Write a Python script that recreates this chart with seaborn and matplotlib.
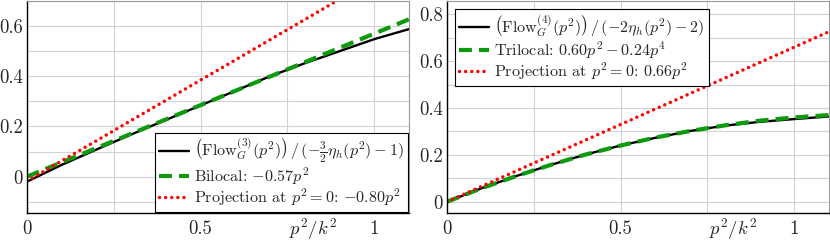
import matplotlib

matplotlib.use("Agg", force=True)
import pandas as pd  # noqa: E402
import seaborn as sns  # noqa: E402
from matplotlib import pyplot as plt  # noqa: E402
from matplotlib.ticker import FixedLocator, MultipleLocator  # noqa: E402

# p^2/k^2 sample points
P2 = [0.0, 0.1, 0.2, 0.3, 0.4, 0.5, 0.6, 0.7, 0.8, 0.9, 1.0, 1.1]

# left panel: three-point flow
FLOW3 = [-0.02, 0.047, 0.108, 0.168, 0.226, 0.284, 0.342, 0.40, 0.452, 0.50, 0.548, 0.588]
BILOCAL = [0.0, 0.057, 0.114, 0.171, 0.228, 0.285, 0.342, 0.399, 0.456, 0.513, 0.57, 0.627]
PROJ3 = [-0.018, 0.063, 0.143, 0.224, 0.304, 0.385, 0.465, 0.546, 0.626, 0.707, 0.787, 0.868]

# right panel: four-point flow
FLOW4 = [0.0, 0.058, 0.11, 0.158, 0.202, 0.24, 0.273, 0.302, 0.325, 0.341, 0.353, 0.364]
TRILOCAL = [0.0, 0.058, 0.11, 0.158, 0.202, 0.24, 0.274, 0.302, 0.326, 0.346, 0.36, 0.37]
PROJ4 = [0.0, 0.066, 0.132, 0.198, 0.264, 0.33, 0.396, 0.462, 0.528, 0.594, 0.66, 0.726]

LABELS_LEFT = [
    r"$\left(\mathrm{Flow}_G^{(3)}(p^2)\right)\,/\,(-\frac{3}{2}\eta_h(p^2)-1)$",
    r"Bilocal: $-0.57p^2$",
    r"Projection at $p^2=0$: $-0.80p^2$",
]
LABELS_RIGHT = [
    r"$\left(\mathrm{Flow}_G^{(4)}(p^2)\right)\,/\,(-2\eta_h(p^2)-2)$",
    r"Trilocal: $0.60p^2-0.24p^4$",
    r"Projection at $p^2=0$: $0.66p^2$",
]

GREEN = "#0e9a0e"
STYLES = [
    dict(color="black", lw=1.7, linestyle="-"),
    dict(color=GREEN, lw=3.0, linestyle=(0, (3.1, 1.7)), dash_capstyle="butt"),
    dict(color="#ff0000", lw=2.5, linestyle=(0, (0.01, 1.75)), dash_capstyle="round"),
]

sns.set_theme(style="white")
plt.rcParams["font.family"] = ["cmr10", "DejaVu Serif"]
plt.rcParams["mathtext.fontset"] = "cm"
plt.rcParams["axes.formatter.use_mathtext"] = True
plt.rcParams["axes.unicode_minus"] = True


def draw_panel(ax, series, labels, ylim, yticks, legend_kw):
    frame = pd.DataFrame({"p2": P2})
    for values, label, style in zip(series, labels, STYLES):
        frame["y"] = values
        sns.lineplot(data=frame, x="p2", y="y", ax=ax, label=label, **style)
    ax.set_xlim(0, 1.1)
    ax.set_ylim(*ylim)
    ax.xaxis.set_major_locator(FixedLocator([0, 0.5, 1]))
    ax.xaxis.set_minor_locator(FixedLocator([0.25, 0.75]))
    ax.set_xticklabels(["0", "0.5", "1"])
    ax.yaxis.set_major_locator(FixedLocator(yticks))
    ax.yaxis.set_minor_locator(MultipleLocator(0.1))
    ax.set_yticklabels(["0" if t == 0 else f"{t:.1f}" for t in yticks])
    ax.grid(which="both", color="#d2d2d2", lw=0.8)
    ax.set_axisbelow(True)
    ax.tick_params(which="both", length=0, labelsize=13.5)
    ax.tick_params(axis="x", pad=5)
    ax.tick_params(axis="y", pad=3)
    ax.set_xlabel("")
    ax.set_ylabel("")
    for side in ("left", "bottom"):
        ax.spines[side].set_color("black")
        ax.spines[side].set_linewidth(1.0)
    for side in ("top", "right"):
        ax.spines[side].set_color("#999999")
        ax.spines[side].set_linewidth(0.8)
    ax.text(0.825, -0.075, r"$p^2/k^2$", transform=ax.get_xaxis_transform(),
            ha="center", va="center", fontsize=13.5)
    leg = ax.legend(fontsize=11.6, frameon=True, fancybox=False, handlelength=1.9,
                    handletextpad=0.3, labelspacing=0.0, borderpad=0.25, **legend_kw)
    leg.get_frame().set_edgecolor("black")
    leg.get_frame().set_linewidth(0.8)
    leg.get_frame().set_alpha(1.0)


fig = plt.figure(figsize=(8.3, 2.41), dpi=100)
ax_left = fig.add_axes([27 / 830, 28 / 241, 382 / 830, 212 / 241])
ax_right = fig.add_axes([447 / 830, 28 / 241, 382 / 830, 212 / 241])

draw_panel(ax_left, [FLOW3, BILOCAL, PROJ3], LABELS_LEFT, (-0.145, 0.70),
           [0, 0.2, 0.4, 0.6],
           dict(loc="lower right", bbox_to_anchor=(0.998, 0.003), borderaxespad=0))
draw_panel(ax_right, [FLOW4, TRILOCAL, PROJ4], LABELS_RIGHT, (-0.048, 0.857),
           [0, 0.2, 0.4, 0.6, 0.8],
           dict(loc="upper left", bbox_to_anchor=(0.02, 0.96), borderaxespad=0))

fig.savefig("out.png", dpi=100)
